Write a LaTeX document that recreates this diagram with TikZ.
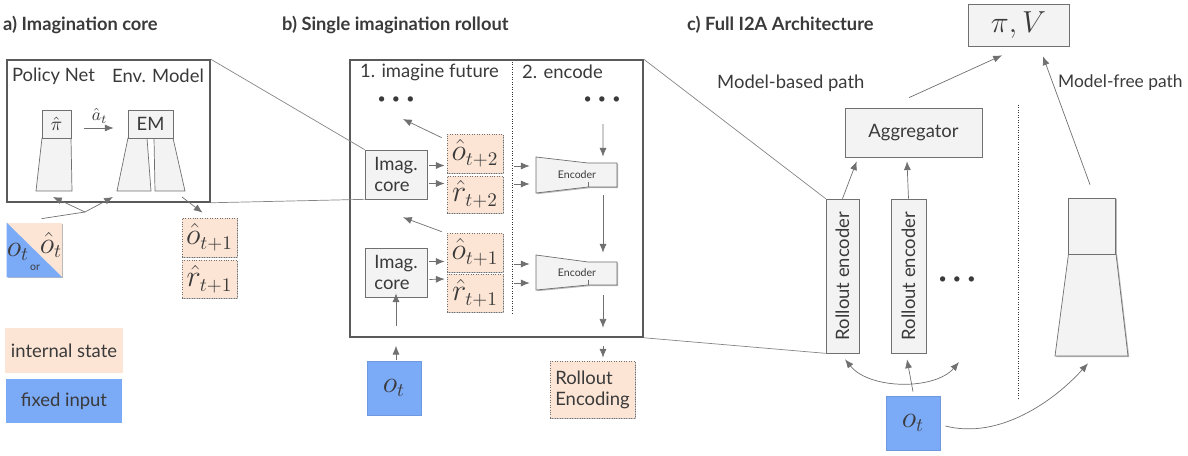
\documentclass[tikz,border=0pt]{standalone}
\usepackage{fontspec}
\setmainfont{Lato}
\usetikzlibrary{arrows.meta, positioning, calc, shadows}
\definecolor{peach}{HTML}{FCE5D5}
\definecolor{inblue}{HTML}{7BAAF7}
\definecolor{boxgray}{HTML}{F3F3F3}
\definecolor{linegray}{HTML}{707070}
\definecolor{txtgray}{HTML}{3A3A3A}

\begin{document}
\begin{tikzpicture}[x=0.02cm, y=-0.02cm,
    every node/.style={text=txtgray, font=\fontsize{10.5}{12}\selectfont},
    shadowed/.style={drop shadow={shadow xshift=0.7pt, shadow yshift=-0.7pt, fill=black!45, opacity=0.6}},
    frame/.style={rectangle, draw=linegray!80!black, line width=0.9pt, shadowed, fill=white},
    box/.style={rectangle, draw=linegray, thin, fill=boxgray, shadowed, inner sep=1pt},
    state/.style={rectangle, draw=linegray, densely dotted, thin, fill=peach, shadowed, inner sep=1pt},
    inp/.style={rectangle, draw=inblue!90!black, thin, fill=inblue, shadowed, inner sep=1pt},
    arrow/.style={-{Latex[length=5pt,width=4pt]}, draw=linegray, thin},
    biarrow/.style={{Latex[length=5pt,width=4pt]}-{Latex[length=5pt,width=4pt]}, draw=linegray, thin},
    zoomline/.style={draw=linegray!85, thin},
    title/.style={anchor=west, font=\bfseries\fontsize{10.4}{13}\selectfont},
    mathbig/.style={font=\fontsize{16}{18}\selectfont}]

    \useasboundingbox (0,0) rectangle (1188,456);

    % Titles
    \node[title] (titleA) at (-3,25) {a) Imagination core};
    \node[title] (titleB) at (276,25) {b) Single imagination rollout};
    \node[title] (titleC) at (681,25) {c) Full I2A Architecture};

    % ---------------- a) Imagination core ----------------
    \node[frame, minimum width=4.06cm, minimum height=2.84cm] (frameA) at (108.5,131) {};
    \node (polnet) at (53.5,76) {Policy Net};
    \node (envmod) at (158,76) {Env. Model};

    % policy net
    \draw[draw=linegray, fill=boxgray] (42,138) -- (71,138) -- (72,191) -- (36,191) -- cycle;
    \node[box, minimum width=0.58cm, minimum height=0.56cm] (pihat) at (56.5,124) {$\hat{\pi}$};

    % environment model
    \draw[draw=linegray, fill=boxgray] (128,138) -- (147,138) -- (151,191) -- (117,191) -- cycle;
    \draw[draw=linegray, fill=boxgray] (154,138) -- (173,138) -- (185,191) -- (155,191) -- cycle;
    \node[box, minimum width=0.9cm, minimum height=0.56cm] (em) at (150.5,124) {EM};

    \draw[arrow, shorten <=7pt, shorten >=8pt] ($(pihat.east)+(0,4)$) -- ($(em.west)+(0,4)$)
        node[midway, above=-1pt, font=\fontsize{10}{12}\selectfont] (ahat) {$\hat{a}_t$};

    % input (fixed or imagined)
    \node[state, draw=none, minimum width=1.1cm, minimum height=1.08cm] (inA) at (34.5,250) {};
    \fill[inblue] (inA.north west) -- (inA.south west) -- (inA.south east) -- cycle;
    \node[mathbig] (inAo) at (18,252) {$o_t$};
    \node[mathbig] (inAh) at (51,245) {$\hat{o}_t$};
    \node[font=\fontsize{6}{7}\selectfont] (inAor) at (35,268) {or};

    \coordinate (split) at (85,212);
    \draw[draw=linegray, thin] ($(inA.north)+(7,-4)$) -- (split);
    \draw[arrow] (split) -- (53,197);
    \draw[arrow] (split) -- (113,197);

    \node[state, minimum width=1.1cm, minimum height=0.78cm, mathbig] (oA) at (209.5,237.5) {$\hat{o}_{t+1}$};
    \node[state, minimum width=1.1cm, minimum height=0.76cm, mathbig] (rA) at (209.5,279) {$\hat{r}_{t+1}$};
    \draw[arrow] (182,197) -- ($(oA.north)+(-7,-5)$);

    % ---------------- b) Single imagination rollout ----------------
    \node[frame, minimum width=5.86cm, minimum height=5.54cm] (frameB) at (496.5,198.5) {};
    \draw[thin, densely dotted, black!80] (512,62) -- (512,314);
    \node[anchor=west] (stepOne) at (354,72) {1. imagine future};
    \node[anchor=west] (stepTwo) at (516,72) {2. encode};

    % zoom lines a -> b
    \node[box, minimum width=1.24cm, minimum height=0.98cm, align=left] (coreU) at (396,174.5) {Imag.\\core};
    \draw[zoomline] (frameA.north east) -- (coreU.north west);
    \draw[zoomline] (frameA.south east) -- (coreU.south west);

    \node[font=\fontsize{7}{8}\selectfont] (dotsL) at (396,100) {$\bullet\;\bullet\;\bullet$};
    \node[font=\fontsize{7}{8}\selectfont] (dotsR) at (602,100) {$\bullet\;\bullet\;\bullet$};

    \node[box, minimum width=1.24cm, minimum height=0.98cm, align=left] (coreL) at (396,272.5) {Imag.\\core};

    \node[state, minimum width=1.12cm, minimum height=0.78cm, mathbig] (oU2) at (475,153.5) {$\hat{o}_{t+2}$};
    \node[state, minimum width=1.12cm, minimum height=0.74cm, mathbig] (rU2) at (475,194.5) {$\hat{r}_{t+2}$};
    \node[state, minimum width=1.12cm, minimum height=0.78cm, mathbig] (oU1) at (475,252.5) {$\hat{o}_{t+1}$};
    \node[state, minimum width=1.12cm, minimum height=0.76cm, mathbig] (rU1) at (475,293) {$\hat{r}_{t+1}$};

    \draw[arrow] ($(coreU.east)+(2,-9)$) -- ($(oU2.west)+(-2,12)$);
    \draw[arrow] ($(coreU.east)+(2,9)$) -- ($(rU2.west)+(-2,-11)$);
    \draw[arrow] ($(coreL.east)+(2,-11)$) -- ($(oU1.west)+(-2,9)$);
    \draw[arrow] ($(coreL.east)+(2,7)$) -- ($(rU1.west)+(-2,-14)$);

    \draw[arrow] ($(oU2.north west)+(-5,4)$) -- ($(dotsL.south)+(7,10)$);
    \draw[arrow] ($(oU1.north west)+(-5,-1)$) -- ($(coreU.south)+(7,18)$);

    % encoders
    \node[minimum width=1.62cm, minimum height=0.72cm, inner sep=0pt] (encU) at (576.5,175) {};
    \draw[draw=linegray, fill=boxgray, shadowed] (536,157) -- (588,163) -- (617,163) -- (617,187) -- (588,187) -- (536,193) -- cycle;
    \draw[draw=linegray] (588,182) -- (588,187);
    \node[font=\fontsize{6}{7}\selectfont] (encUtxt) at (577,175) {Encoder};

    \node[minimum width=1.62cm, minimum height=0.70cm, inner sep=0pt] (encL) at (576.5,272.5) {};
    \draw[draw=linegray, fill=boxgray, shadowed] (536,255) -- (588,262) -- (617,262) -- (617,285) -- (588,285) -- (536,290) -- cycle;
    \draw[draw=linegray] (588,280) -- (588,285);
    \node[font=\fontsize{6}{7}\selectfont] (encLtxt) at (577,273) {Encoder};

    \draw[arrow] ($(encU.west)+(-22,-9)$) -- ($(encU.west)+(-6,-9)$);
    \draw[arrow] ($(encU.west)+(-22,9)$) -- ($(encU.west)+(-6,9)$);
    \draw[arrow] ($(encL.west)+(-22,-8.5)$) -- ($(encL.west)+(-6,-8.5)$);
    \draw[arrow] ($(encL.west)+(-22,10.5)$) -- ($(encL.west)+(-6,10.5)$);

    \node[state, minimum width=1.7cm, minimum height=1.14cm, align=left] (rollEnc) at (592.5,389.5) {Rollout\\Encoding};
    \draw[arrow] ($(dotsR.south)+(1,15)$) -- ($(encU.north)+(26.5,0)$);
    \draw[arrow] ($(encU.south)+(26.5,2)$) -- ($(encL.north)+(26.5,-2)$);
    \draw[arrow] ($(encL.south)+(26.5,5)$) -- ($(frameB.south)+(106.5,-10)$);
    \draw[arrow] ($(frameB.south)+(106.5,8)$) -- ($(rollEnc.north)+(10.5,-3)$);

    \node[inp, minimum width=1.08cm, minimum height=1.08cm, mathbig] (oB) at (394,388) {$o_t$};
    \draw[arrow] ($(oB.north)+(2,-1)$) -- ($(frameB.south)+(-100.5,8)$);
    \draw[arrow] ($(frameB.south)+(-100.5,-12)$) -- ($(coreL.south)+(0,-4)$);

    % legend
    \node[fill=peach, minimum width=2.32cm, minimum height=0.9cm] (legState) at (64,350.5) {internal state};
    \node[fill=inblue, minimum width=2.32cm, minimum height=0.88cm] (legInput) at (64,401) {fixed input};

    % ---------------- c) Full I2A Architecture ----------------
    \node[box, minimum width=2.02cm, minimum height=0.84cm, font=\fontsize{17}{19}\selectfont] (piV) at (1018.5,25) {$\pi, V$};
    \node[anchor=west] (mbPath) at (711,83) {Model-based path};
    \node[anchor=west, font=\fontsize{9.9}{12}\selectfont] (mfPath) at (1052,83) {Model-free path};

    \node[box, minimum width=2.74cm, minimum height=0.98cm] (agg) at (913.5,132.5) {Aggregator};
    \node[box, minimum width=0.66cm, minimum height=3.08cm] (re1) at (842.5,276) {\rotatebox{90}{Rollout encoder}};
    \node[box, minimum width=0.70cm, minimum height=3.08cm] (re2) at (908.5,276) {\rotatebox{90}{Rollout encoder}};
    \node[font=\fontsize{7}{8}\selectfont] (dotsC) at (957,280) {$\bullet\;\bullet\;\bullet$};

    \draw[zoomline] (frameB.north east) -- (re1.north west);
    \draw[zoomline] (frameB.south east) -- (re1.south west);

    \draw[arrow] ($(agg.north)+(-4.5,-10)$) -- ($(piV.south)+(-16.5,9)$);
    \draw[arrow] (re1.north) -- ($(agg.south west)+(12,4)$);
    \draw[arrow] (re2.north) -- ($(agg.south)+(-6.5,4)$);

    % model-free path
    \draw[draw=linegray, fill=boxgray, shadowed] (1068.5,254) -- (1116,254) -- (1128,356) -- (1055,356) -- cycle;
    \node[box, minimum width=0.95cm, minimum height=1.12cm] (mfTop) at (1092,226) {};
    \draw[arrow] ($(mfTop.north)+(-2,-13)$) -- ($(piV.south)+(24.5,10)$);
    \draw[thin, densely dotted, black!80] (1018,105) -- (1018,400);

    \node[inp, minimum width=1.08cm, minimum height=1.08cm, mathbig] (oC) at (913,423) {$o_t$};
    \draw[arrow] ($(oC.north)+(0,-4)$) -- ($(re2.south)+(-1.5,6)$);
    \draw[biarrow] ($(re1.south)+(2.5,6)$) .. controls (870,390) and (935,390) .. ($(dotsC.south)+(2,73)$);
    \draw[arrow] ($(oC.east)+(5,3)$) .. controls (1000,440) and (1055,400) .. ($(mfTop.south)+(-4,109)$);

\end{tikzpicture}
\end{document}
